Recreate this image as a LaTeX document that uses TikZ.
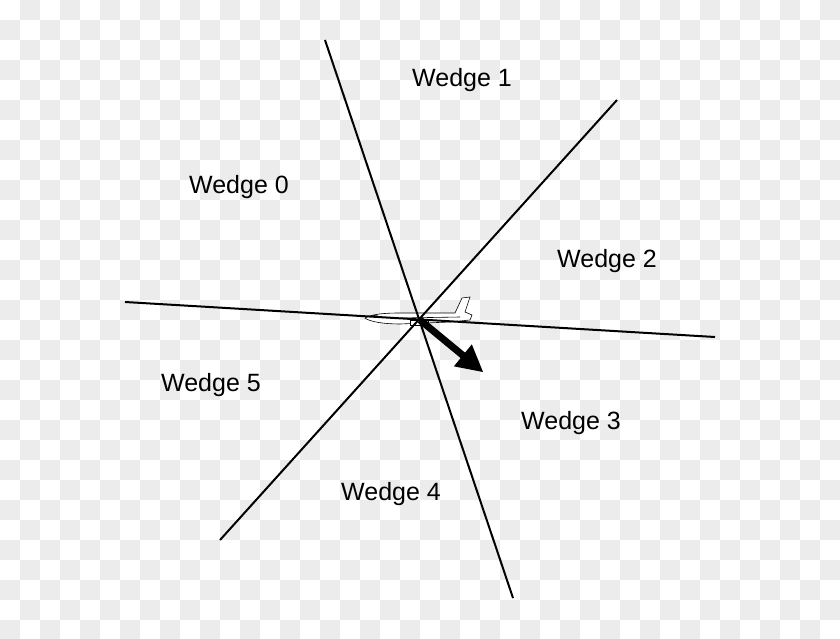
\documentclass[tikz,border=0pt]{standalone}
\usepackage{fontspec}
\setmainfont{Liberation Sans}
\usetikzlibrary{calc}
\begin{document}
\begin{tikzpicture}[x=1pt,y=-1pt,
  wlabel/.style={font=\fontsize{25}{28}\selectfont, inner sep=0pt},
  divline/.style={line width=2pt, black}]
\useasboundingbox (0,0) rectangle (840,639);
\fill[white] (0,0) rectangle (840,639);
\foreach \i in {0,...,41}{\foreach \j in {0,...,31}{
  \pgfmathtruncatemacro{\odd}{mod(\i+\j,2)}
  \ifnum\odd=1 \fill[gray!15] (\i*20,\j*20) rectangle ++(20,20);\fi}}
\coordinate (a1) at (325,40); \coordinate (a2) at (513,598);
\coordinate (b1) at (617,100); \coordinate (b2) at (220,540);
\coordinate (c1) at (125,302); \coordinate (c2) at (715,337);
\coordinate (O) at (420,320); \coordinate (T) at (483,372);
% airplane
\begin{scope}[line width=0.6pt]
\filldraw[fill=white,draw=black] (365,318) .. controls (372,314) and (385,313) .. (400,313)
  -- (455,313) -- (462,298) -- (470,297) -- (465,312) -- (472,315) -- (470,320)
  -- (450,322) -- (400,324) .. controls (385,324) and (370,322) .. (365,318) -- cycle;
\draw (400,318) -- (460,317);
\filldraw[fill=white] (410,320) rectangle (428,325);
\draw (371,316) -- (378,315);
\end{scope}
\draw[divline] (a1) -- (a2);
\draw[divline] (b1) -- (b2);
\draw[divline] (c1) -- (c2);
\draw[line width=7pt] (O) -- ($(O)!0.8!(T)$);
\fill ($(O)!1!(T)$) -- ($(O)!0.68!(T)+(-9,11)$) -- ($(O)!0.68!(T)+(9,-11)$) -- cycle;
\node[wlabel] (w1) at (462,80) {Wedge 1};
\node[wlabel] (w0) at (239,187) {Wedge 0};
\node[wlabel] (w2) at (607,261) {Wedge 2};
\node[wlabel] (w5) at (211,385) {Wedge 5};
\node[wlabel] (w3) at (571,423) {Wedge 3};
\node[wlabel] (w4) at (391,494) {Wedge 4};
\end{tikzpicture}
\end{document}
